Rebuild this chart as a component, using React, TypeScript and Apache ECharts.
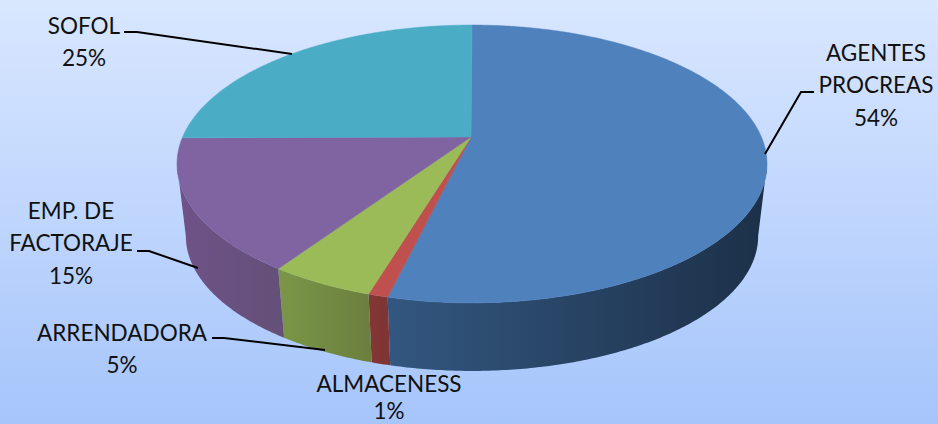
import React, { useEffect, useRef } from "react";
import * as echarts from "echarts";

const categories = ["AGENTES\nPROCREAS", "ALMACENESS", "ARRENDADORA", "EMP. DE\nFACTORAJE", "SOFOL"];
const values = [53.8, 0.9, 4.8, 15.4, 25.1];
const topColors = ["#4f81bd", "#c0504d", "#9bbb59", "#8064a2", "#4bacc6"];
const wallLeft = ["#335780", "#853635", "#7b9648", "#6f5289", "#3a8a9e"];
const wallRight = ["#1c3048", "#7d3533", "#6a7f3e", "#645077", "#3a8a9e"];
const labelX = [876, 389, 122, 71, 84];
const labelFirstY = [52, 383, 332, 210, 25];
const leaders = [
  [[814, 92], [801, 92], [765, 154]],
  [],
  [[212, 338], [224, 338], [325, 350]],
  [[137, 251], [149, 251], [198, 268]],
  [[124, 32], [137, 32], [292, 54]],
];

const CX = 472;
const K = 0.194;
const LINE_STEP = 32.7;
const MAX_TEXT_Y = 410;
const top = { a: 289.4, b: 133.7, y0: 137 };
const bottom = { a: 280.7, b: 129.7, y0: 210 };
const TANGENT = Math.asin(K);
const VISIBLE_FROM = Math.PI / 2 + TANGENT;
const VISIBLE_TO = (3 * Math.PI) / 2 - TANGENT;

function project(t: number, p: { a: number; b: number; y0: number }) {
  const u = Math.sin(t);
  const v = Math.cos(t);
  const w = 1 + K * v;
  return [CX + (p.a * u) / w, p.y0 - (p.b * v) / w];
}

function arc(from: number, to: number, p: { a: number; b: number; y0: number }) {
  const n = Math.max(2, Math.ceil(Math.abs(to - from) / 0.01));
  const pts: number[][] = [];
  for (let i = 0; i <= n; i++) pts.push(project(from + ((to - from) * i) / n, p));
  return pts;
}

const total = values.reduce((s, v) => s + v, 0);

function renderItem(params: any, api: any) {
  const i = params.dataIndex;
  const start = (values.slice(0, i).reduce((s, v) => s + v, 0) / total) * Math.PI * 2;
  const end = start + (api.value(0) / total) * Math.PI * 2;
  const children: any[] = [];

  const wa = Math.max(start, VISIBLE_FROM);
  const wb = Math.min(end, VISIBLE_TO);
  if (wb > wa) {
    const t = arc(wa, wb, top);
    const b = arc(wa, wb, bottom).reverse();
    children.push({
      type: "polygon",
      shape: { points: t.concat(b) },
      style: {
        fill: new echarts.graphic.LinearGradient(0, 0, 1, 0, [
          { offset: 0, color: wallLeft[i] },
          { offset: 1, color: wallRight[i] },
        ]),
        stroke: "none",
      },
    });
  }
  children.push({
    type: "polygon",
    shape: { points: [[CX - 1, top.y0]].concat(arc(start, end, top)) },
    style: { fill: topColors[i], stroke: topColors[i], lineWidth: 0.5 },
  });
  if (leaders[i].length) {
    children.push({
      type: "polyline",
      shape: { points: leaders[i] },
      style: { stroke: "#000000", lineWidth: 2, fill: "none" },
    });
  }
  const lines = [...categories[i].split("\n"), `${Math.round(api.value(0))}%`];
  lines.forEach((line, n) => {
    children.push({
      type: "text",
      x: labelX[i],
      y: Math.min(labelFirstY[i] + n * LINE_STEP, MAX_TEXT_Y),
      style: {
        text: line,
        fontFamily: "Lato",
        fontSize: 22.5,
        lineHeight: 23,
        fill: "#111111",
        align: "center",
        verticalAlign: "middle",
      },
    });
  });
  return { type: "group", children };
}

export default function App() {
  const ref = useRef<HTMLDivElement>(null);
  useEffect(() => {
    document.body.style.margin = "0";
    const chart = echarts.init(ref.current!, undefined, { renderer: "svg" });
    chart.setOption({
      animation: false,
      backgroundColor: new echarts.graphic.LinearGradient(0, 0, 0, 1, [
        { offset: 0, color: "#d9e7ff" },
        { offset: 1, color: "#a6c5fb" },
      ]),
      series: [
        {
          type: "custom",
          coordinateSystem: "none",
          renderItem,
          silent: true,
          data: values.map((v, i) => ({ name: categories[i], value: [v] })),
        },
      ],
    });
    return () => chart.dispose();
  }, []);
  return <div ref={ref} style={{ width: 938, height: 424 }} />;
}
